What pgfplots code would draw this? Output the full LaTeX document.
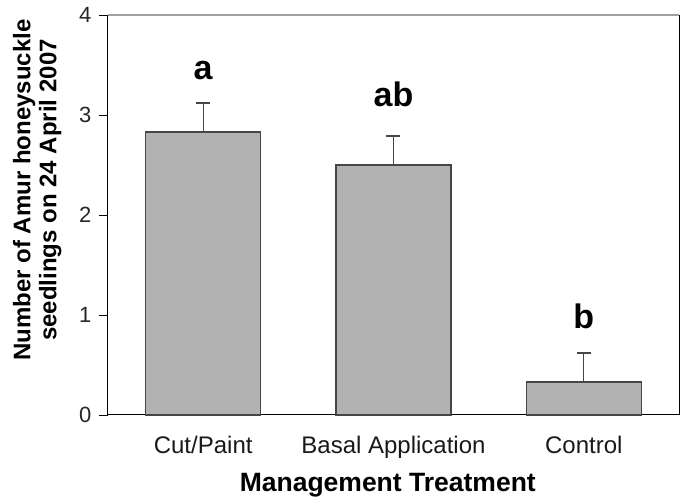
\documentclass[border=0pt]{standalone}
\usepackage{fontspec}
\setmainfont{Liberation Sans}
\usepackage{pgfplots}
\pgfplotsset{compat=1.18}
\definecolor{barfill}{RGB}{178,178,178}
\definecolor{baredge}{RGB}{70,70,70}
\definecolor{topline}{RGB}{160,160,160}
\begin{document}
\begin{tikzpicture}
\useasboundingbox (0,0) rectangle (686pt,503pt);
\begin{axis}[
  at={(108pt,88pt)}, anchor=south west,
  scale only axis, width=571pt, height=400pt,
  xmin=-0.5, xmax=2.5, ymin=0, ymax=4,
  axis x line*=bottom, axis y line*=left,
  axis line style={-, line width=1pt, black},
  ytick={0,1,2,3,4},
  xtick={0,1,2},
  xticklabels={Cut/Paint, Basal Application, Control},
  x tick style={draw=none},
  y tick style={line width=0.8pt, black},
  tick align=outside,
  major tick length=9pt,
  /pgf/number format/assume math mode=true,
  yticklabel style={font=\fontsize{22}{26}\selectfont, text=black!85, xshift=-4pt},
  xticklabel style={font=\fontsize{24}{28}\selectfont, text=black!90, anchor=base, yshift=-30pt},
  ylabel={Number of Amur honeysuckle\\seedlings on 24 April 2007},
  ylabel style={font=\bfseries\fontsize{24}{26}\selectfont, align=center, at={(axis description cs:-0.124,0.5625)}, anchor=center},
  xlabel={Management Treatment},
  xlabel style={font=\bfseries\fontsize{26.5}{30}\selectfont, at={(axis description cs:0.49,-0.1925)}, anchor=base},
  clip=false,
]
\addplot[ybar, bar width=115pt, fill=barfill, draw=baredge, line width=1.3pt,
  error bars/.cd, y dir=plus, y explicit,
  error bar style={line width=1.2pt, baredge},
  error mark options={line width=1.2pt, baredge, mark size=7pt, rotate=90}]
  coordinates {(0,2.83) +- (0,0.29) (1,2.50) +- (0,0.29) (2,0.33) +- (0,0.29)};
\draw[line width=1pt, black] (rel axis cs:1,0) -- (rel axis cs:1,1);
\draw[line width=1.2pt, topline] (rel axis cs:0,1) -- (rel axis cs:1,1);
\node[anchor=base, font=\bfseries\fontsize{34}{38}\selectfont] at (axis cs:0,3.35) {a};
\node[anchor=base, font=\bfseries\fontsize{34}{38}\selectfont] at (axis cs:1,3.08) {ab};
\node[anchor=base, font=\bfseries\fontsize{34}{38}\selectfont] at (axis cs:2,0.86) {b};
\end{axis}
\end{tikzpicture}
\end{document}
